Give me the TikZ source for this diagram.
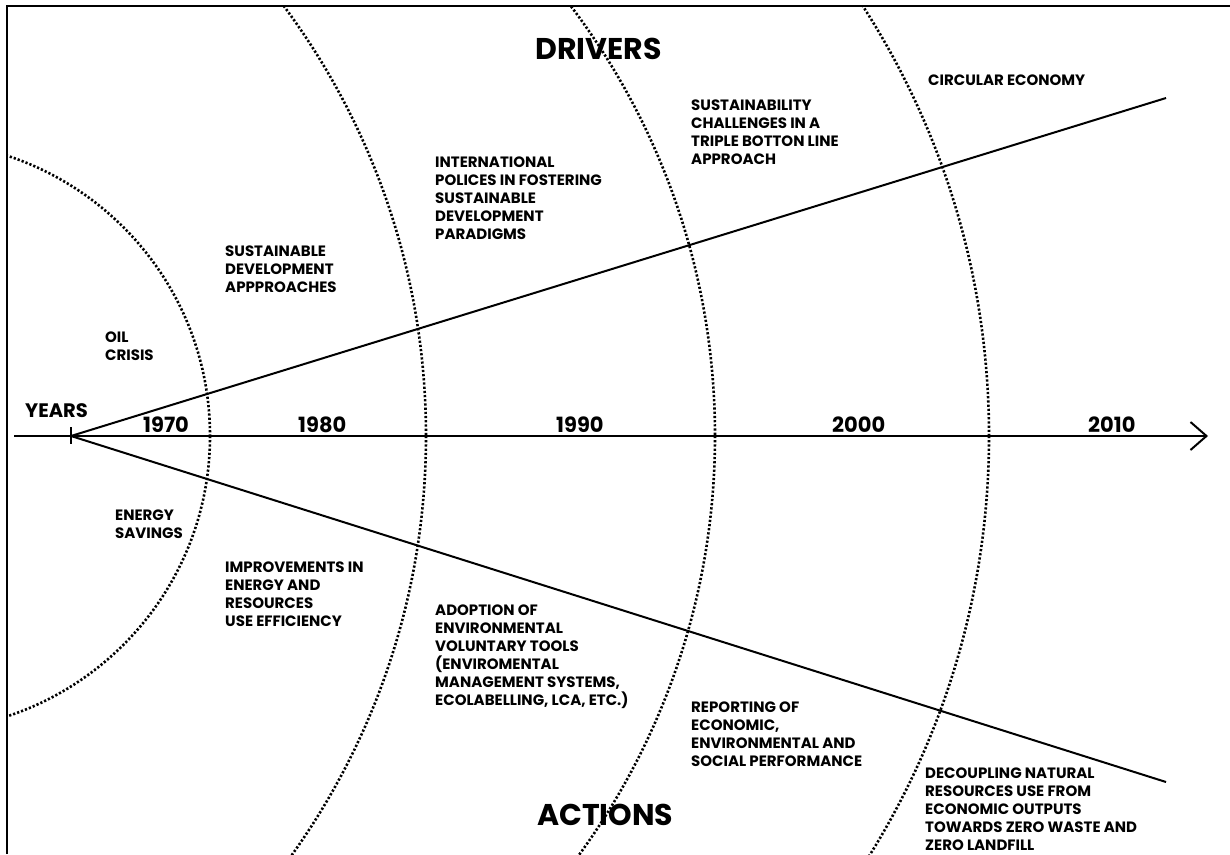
\documentclass[tikz,border=0pt]{standalone}
\usepackage{fontspec}
\setmainfont{Poppins}
\usetikzlibrary{arrows.meta}
\tikzset{
  lbl/.style={anchor=base west, inner sep=0pt, align=left, font=\bfseries\fontsize{15}{18}\selectfont},
  yearlbl/.style={anchor=base west, inner sep=0pt, font=\bfseries\fontsize{21}{24}\selectfont},
  title/.style={anchor=base west, inner sep=0pt, font=\bfseries\fontsize{30}{34}\selectfont},
  mainline/.style={line width=2pt},
  era/.style={line width=2.6pt, dash pattern=on 2.2pt off 2pt}
}
\begin{document}
\begin{tikzpicture}[x=1pt,y=-1pt]
\useasboundingbox (0,0) rectangle (1230,854);
\fill[white] (0,0) rectangle (1230,854);
% frame (top and left)
\draw[line width=1.5pt] (7,854) -- (7,6) -- (1230,6);
% era boundaries
\begin{scope}
\clip (7,6) rectangle (1230,854);
\draw[era] (-85,436) circle[radius=295];
\draw[era] (-295,436) circle[radius=721];
\draw[era] (2,436) circle[radius=713];
\draw[era] (194,436) circle[radius=795];
\end{scope}
% coordinates
\coordinate (axisstart) at (14,436);
\coordinate (axisend) at (1208,436);
\coordinate (origin) at (71,436);
\coordinate (ticktop) at (71,427);
\coordinate (tickbot) at (71,444);
\coordinate (upend) at (1166,98);
\coordinate (lowend) at (1166,782);
% axis and fan
\draw[mainline, -{Straight Barb[length=16pt,width=28pt]}] (axisstart) -- (axisend);
\draw[mainline] (ticktop) -- (tickbot);
\draw[mainline] (origin) -- (upend);
\draw[mainline] (origin) -- (lowend);
% titles
\node[title] (drivers) at (535,59) {DRIVERS};
\node[title] (actions) at (537,825) {ACTIONS};
% years
\node[anchor=base west, inner sep=0pt, font=\bfseries\fontsize{19.5}{22}\selectfont] (years) at (25,417) {YEARS};
\node[yearlbl] (y1970) at (143,432) {1970};
\node[yearlbl] (y1980) at (298,432) {1980};
\node[yearlbl] (y1990) at (556,432) {1990};
\node[yearlbl] (y2000) at (832,432) {2000};
\node[yearlbl] (y2010) at (1088,432) {2010};
% drivers (anchor at baseline of the last line)
\node[lbl] (oil) at (105,360.5) {OIL\\CRISIS};
\node[lbl] (sda) at (225,292.5) {SUSTAINABLE\\DEVELOPMENT\\APPPROACHES};
\node[lbl] (intl) at (435,239.5) {INTERNATIONAL\\POLICES IN FOSTERING\\SUSTAINABLE\\DEVELOPMENT\\PARADIGMS};
\node[lbl] (tbl) at (691,164.5) {SUSTAINABILITY\\CHALLENGES IN A\\TRIPLE BOTTON LINE\\APPROACH};
\node[lbl] (circ) at (928,85.5) {CIRCULAR ECONOMY};
% actions
\node[lbl] (energy) at (115,538.5) {ENERGY\\SAVINGS};
\node[lbl] (improv) at (225,626.5) {IMPROVEMENTS IN\\ENERGY AND\\RESOURCES\\USE EFFICIENCY};
\node[lbl] (adopt) at (435,705.5) {ADOPTION OF\\ENVIRONMENTAL\\VOLUNTARY TOOLS\\(ENVIROMENTAL\\MANAGEMENT SYSTEMS,\\ECOLABELLING, LCA, ETC.)};
\node[lbl] (report) at (691,766.5) {REPORTING OF\\ECONOMIC,\\ENVIRONMENTAL AND\\SOCIAL PERFORMANCE};
\node[lbl] (decoup) at (925,850.5) {DECOUPLING NATURAL\\RESOURCES USE FROM\\ECONOMIC OUTPUTS\\TOWARDS ZERO WASTE AND\\ZERO LANDFILL};
\end{tikzpicture}
\end{document}
